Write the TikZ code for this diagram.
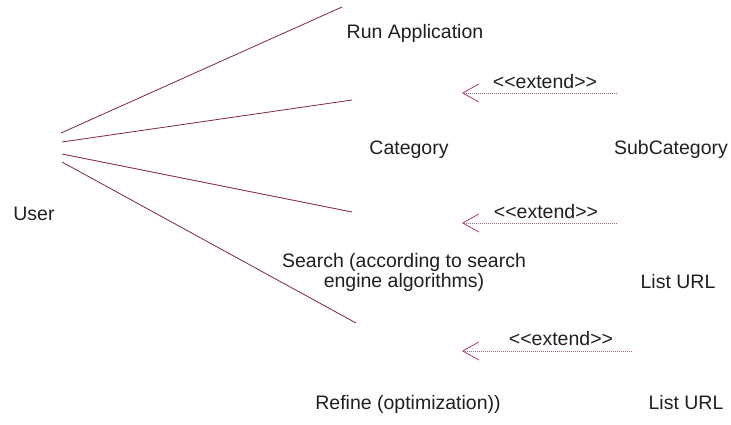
\documentclass[tikz,border=0pt]{standalone}
\usepackage{fontspec}
\setmainfont{Liberation Sans}
\usetikzlibrary{arrows.meta}
\definecolor{assoc}{RGB}{128,36,72}
\definecolor{extline}{RGB}{160,100,130}
\definecolor{exthead}{RGB}{176,56,116}
\newcommand{\extlabel}{<\kern0pt<extend>\kern0pt>}
\begin{document}
\begin{tikzpicture}[x=1pt,y=-1pt,
  lbl/.style={inner sep=0pt,anchor=base,font=\fontsize{19.5}{20}\selectfont,text=black!88},
  assocline/.style={draw=assoc,line width=0.8pt},
  extarrow/.style={draw=extline,line width=0.6pt,dash pattern=on 1pt off 1pt,
    -{Straight Barb[length=16pt,width=18pt,line width=0.8pt,color=exthead]}}]
\useasboundingbox (0,0) rectangle (731,424);
% texts
\node[lbl] (user) at (34,220) {User};
\node[lbl] (run) at (415,38) {Run Application};
\node[lbl] (cat) at (409,154) {Category};
\node[lbl] (subcat) at (671,154) {SubCategory};
\node[lbl,align=center] (search) at (404,287) {Search (according to search\\[-0.6pt]engine algorithms)};
\node[lbl] (list1) at (678,288) {List URL};
\node[lbl] (refine) at (408,409) {Refine (optimization))};
\node[lbl] (list2) at (686,409) {List URL};
\node[lbl] (ext1) at (545,88) {\extlabel};
\node[lbl] (ext2) at (546,218) {\extlabel};
\node[lbl] (ext3) at (561,345) {\extlabel};
% association ends
\coordinate (u1) at (61,133);
\coordinate (u2) at (62,142);
\coordinate (u3) at (62,154);
\coordinate (u4) at (62,162);
\coordinate (e1) at (342,7);
\coordinate (e2) at (352,100);
\coordinate (e3) at (352,212);
\coordinate (e4) at (356,323);
\draw[assocline] (u1) -- (e1);
\draw[assocline] (u2) -- (e2);
\draw[assocline] (u3) -- (e3);
\draw[assocline] (u4) -- (e4);
% extend arrows
\coordinate (t1) at (617,93);
\coordinate (h1) at (462,93);
\coordinate (t2) at (617,223);
\coordinate (h2) at (462,223);
\coordinate (t3) at (632,351);
\coordinate (h3) at (462,351);
\draw[extarrow] (t1) -- (h1);
\draw[extarrow] (t2) -- (h2);
\draw[extarrow] (t3) -- (h3);
\end{tikzpicture}
\end{document}
